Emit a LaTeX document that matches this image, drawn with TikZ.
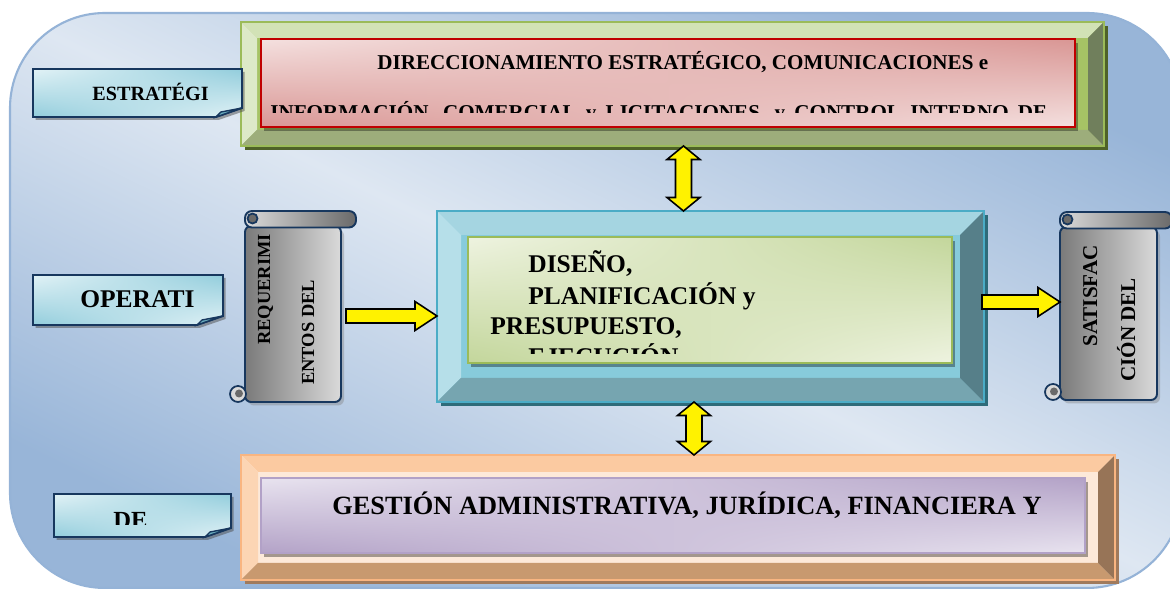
\documentclass[tikz,border=0pt]{standalone}
\usepackage{fontspec}
\setmainfont{Liberation Serif}
\usetikzlibrary{positioning, calc, shadows, shadings}

% background
\definecolor{bglight}{HTML}{DEE7F2}
\definecolor{bgdark}{HTML}{98B5D8}
\definecolor{bgborder}{HTML}{95B3D7}
% green frame
\definecolor{gfborder}{HTML}{9BBB59}
\definecolor{gfface}{HTML}{A6C365}
\definecolor{gftop}{HTML}{D2E2B6}
\definecolor{gfleft}{HTML}{DDE9C8}
\definecolor{gfbot}{HTML}{9DAD7B}
\definecolor{gfright}{HTML}{707F5C}
\definecolor{gfshadow}{HTML}{4F6228}
% blue frame
\definecolor{bfborder}{HTML}{4BACC6}
\definecolor{bfface}{HTML}{87CBDB}
\definecolor{bftop}{HTML}{A5D5E1}
\definecolor{bfleft}{HTML}{B6DFE9}
\definecolor{bfbot}{HTML}{76A5B0}
\definecolor{bfright}{HTML}{567F89}
\definecolor{bfshadow}{HTML}{2E6B79}
% orange frame
\definecolor{ofborder}{HTML}{F9B581}
\definecolor{offace}{HTML}{FDE9D9}
\definecolor{oftop}{HTML}{FBCAA1}
\definecolor{ofleft}{HTML}{FCD5B4}
\definecolor{ofbot}{HTML}{C8996F}
\definecolor{ofright}{HTML}{977457}
\definecolor{ofshadow}{HTML}{A07A5C}
% inner panels
\definecolor{dirborder}{HTML}{C00000}
\definecolor{dirlight}{HTML}{F4E0DF}
\definecolor{dirdark}{HTML}{D99694}
\definecolor{planborder}{HTML}{9BBB59}
\definecolor{planlight}{HTML}{EEF3E0}
\definecolor{plandark}{HTML}{C3D69B}
\definecolor{gestborder}{HTML}{B2A1C7}
\definecolor{gestlight}{HTML}{E8E3EF}
\definecolor{gestdark}{HTML}{B3A2C7}
% tabs, scrolls
\definecolor{navy}{HTML}{17375E}
\definecolor{tablight}{HTML}{E2F2F6}
\definecolor{tabdark}{HTML}{92CDDC}
\definecolor{tabfold}{HTML}{6AAEC0}
\definecolor{scrolldark}{HTML}{7A7A7A}
\definecolor{scrolllight}{HTML}{DADADA}
\definecolor{rolldark}{HTML}{6A6A6A}

% bevel bands of a frame node: name, width, top, left, bottom, right
\newcommand{\bevelframe}[6]{%
  \fill[#3] (#1.north west) -- (#1.north east) -- ([shift={(-#2,-#2)}]#1.north east) -- ([shift={(#2,-#2)}]#1.north west) -- cycle;
  \fill[#4] (#1.north west) -- ([shift={(#2,-#2)}]#1.north west) -- ([shift={(#2,#2)}]#1.south west) -- (#1.south west) -- cycle;
  \fill[#5] (#1.south west) -- ([shift={(#2,#2)}]#1.south west) -- ([shift={(-#2,#2)}]#1.south east) -- (#1.south east) -- cycle;
  \fill[#6] (#1.south east) -- ([shift={(-#2,#2)}]#1.south east) -- ([shift={(-#2,-#2)}]#1.north east) -- (#1.north east) -- cycle;
}
% yellow block arrow pointing right, from #1 to #2 (at the height of #1)
\newcommand{\rightblock}[2]{%
  \filldraw[yarrow] let \p1=(#1), \p2=(#2) in
    (\x1,\y1+0.14cm) -- (\x2-0.44cm,\y1+0.14cm) -- (\x2-0.44cm,\y1+0.29cm) -- (\x2,\y1)
    -- (\x2-0.44cm,\y1-0.29cm) -- (\x2-0.44cm,\y1-0.14cm) -- (\x1,\y1-0.14cm) -- cycle;
}
% yellow block arrow with two heads, from top #1 to bottom #2
\newcommand{\updownblock}[2]{%
  \filldraw[yarrow] let \p1=(#1), \p2=(#2) in
    (\x1,\y1) -- (\x1+0.33cm,\y1-0.27cm) -- (\x1+0.16cm,\y1-0.27cm) -- (\x1+0.16cm,\y2+0.27cm)
    -- (\x1+0.33cm,\y2+0.27cm) -- (\x1,\y2) -- (\x1-0.33cm,\y2+0.27cm) -- (\x1-0.16cm,\y2+0.27cm)
    -- (\x1-0.16cm,\y1-0.27cm) -- (\x1-0.33cm,\y1-0.27cm) -- cycle;
}

\begin{document}
\begin{tikzpicture}[
    bevelbox/.style={rectangle, draw=#1, line width=0.9pt, inner sep=0pt, outer sep=0pt},
    panel/.style={rectangle, draw=#1, line width=1.1pt, inner sep=0pt, outer sep=0pt,
                  drop shadow={shadow xshift=0.05cm, shadow yshift=-0.09cm, fill=black, opacity=0.35}},
    corners/.style 2 args={upper left=#1, lower right=#1, upper right=#2, lower left=#2},
    txt/.style={anchor=base west, inner sep=0pt, font=\bfseries},
    tabbox/.style={rectangle, inner sep=0pt, outer sep=0pt},
    tab/.style={draw=navy, line width=1.1pt, corners={tablight}{tabdark},
                drop shadow={shadow xshift=0.05cm, shadow yshift=-0.06cm, fill=black!70, opacity=0.5}},
    scroll/.style={rectangle, draw=navy, line width=1.1pt, inner sep=0pt, outer sep=0pt,
                   rounded corners=0.12cm, left color=scrolldark, right color=scrolllight,
                   drop shadow={shadow xshift=0.06cm, shadow yshift=-0.07cm, opacity=0.4}},
    roll/.style={draw=navy, line width=1.1pt, rounded corners=0.14cm, left color=scrolllight, right color=rolldark},
    curl/.style={draw=navy, line width=1pt, fill=rolldark},
    yarrow/.style={draw=black, fill=yellow, line width=0.9pt, line join=miter}
]
    \useasboundingbox (0,0) rectangle (23.4,11.78);

    % Background panel
    \path[draw=bgborder, line width=1.2pt, rounded corners=1.9cm,
          top color=bgdark, bottom color=bgdark, middle color=bglight, shading angle=-26]
        (0.2,0.02) rectangle (23.64,11.52);

    % Strategic frame (green)
    \node[bevelbox=gfborder, fill=gfface, minimum width=17.26cm, minimum height=2.48cm,
          drop shadow={shadow xshift=0.07cm, shadow yshift=-0.08cm, fill=gfshadow, opacity=1}] (gf) at (13.45,10.10) {};
    \bevelframe{gf}{0.32}{gftop}{gfleft}{gfbot}{gfright}
    \draw[gfborder, line width=0.9pt] (gf.south west) rectangle (gf.north east);

    \node[panel=dirborder, corners={dirlight}{dirdark}, minimum width=16.28cm, minimum height=1.76cm] (dir) at (13.36,10.12) {};
    \begin{scope}
        \clip (5.22,9.52) rectangle (dir.north east);
        \node[txt, font=\fontsize{12}{14}\selectfont\bfseries] (dir1) at (7.54,10.38)
            {DIRECCIONAMIENTO ESTRATÉGICO, COMUNICACIONES e};
        \node[txt, font=\fontsize{12}{14}\selectfont\bfseries] (dir2) at (5.40,9.38)
            {\makebox[15.54cm][s]{INFORMACIÓN, COMERCIAL y LICITACIONES, y CONTROL INTERNO DE}};
    \end{scope}

    % Operative frame (blue)
    \node[bevelbox=bfborder, fill=bfface, minimum width=10.94cm, minimum height=3.82cm,
          drop shadow={shadow xshift=0.07cm, shadow yshift=-0.08cm, fill=bfshadow, opacity=1}] (bf) at (14.21,5.65) {};
    \bevelframe{bf}{0.48}{bftop}{bfleft}{bfbot}{bfright}
    \draw[bfborder, line width=0.9pt] (bf.south west) rectangle (bf.north east);

    \node[panel=planborder, corners={planlight}{plandark}, minimum width=9.68cm, minimum height=2.52cm] (plan) at (14.20,5.78) {};
    \begin{scope}
        \clip (9.36,4.70) rectangle (plan.north east);
        \node[txt, font=\fontsize{14.5}{17}\selectfont\bfseries] (plan1) at (10.56,6.32) {DISEÑO,};
        \node[txt, font=\fontsize{14.5}{17}\selectfont\bfseries] (plan2) at (10.56,5.68) {PLANIFICACIÓN y};
        \node[txt, font=\fontsize{14.5}{17}\selectfont\bfseries] (plan3) at (9.80,5.08) {PRESUPUESTO,};
        \node[txt, font=\fontsize{14.5}{17}\selectfont\bfseries] (plan4) at (10.56,4.46) {EJECUCIÓN};
    \end{scope}

    % Support frame (orange)
    \node[bevelbox=ofborder, fill=offace, minimum width=17.48cm, minimum height=2.5cm,
          drop shadow={shadow xshift=0.07cm, shadow yshift=-0.08cm, fill=ofshadow, opacity=1}] (of) at (13.56,1.43) {};
    \bevelframe{of}{0.34}{oftop}{ofleft}{ofbot}{ofright}
    \draw[ofborder, line width=0.9pt] (of.south west) rectangle (of.north east);

    \node[panel=gestborder, corners={gestlight}{gestdark}, minimum width=16.48cm, minimum height=1.5cm] (gest) at (13.46,1.47) {};
    \node[txt, font=\fontsize{15}{18}\selectfont\bfseries] (gest1) at (6.64,1.48)
        {GESTIÓN ADMINISTRATIVA, JURÍDICA, FINANCIERA Y};

    % Level tabs
    \node[tabbox, minimum width=4.18cm, minimum height=0.96cm] (estr) at (2.75,9.92) {};
    \path[tab] (estr.north west) -- (estr.north east) -- ([yshift=0.18cm]estr.south east)
        -- ([xshift=-0.52cm]estr.south east) -- (estr.south west) -- cycle;
    \filldraw[draw=navy, line width=0.8pt, fill=tabfold] ([xshift=-0.52cm]estr.south east)
        -- ([yshift=0.18cm]estr.south east) -- ([shift={(-0.42,0.10)}]estr.south east) -- cycle;
    \node[txt, font=\fontsize{11.5}{14}\selectfont\bfseries] (estr1) at (1.84,9.76) {ESTRATÉGI};

    \node[tabbox, minimum width=3.8cm, minimum height=1.0cm] (oper) at (2.56,5.78) {};
    \path[tab] (oper.north west) -- (oper.north east) -- ([yshift=0.18cm]oper.south east)
        -- ([xshift=-0.52cm]oper.south east) -- (oper.south west) -- cycle;
    \filldraw[draw=navy, line width=0.8pt, fill=tabfold] ([xshift=-0.52cm]oper.south east)
        -- ([yshift=0.18cm]oper.south east) -- ([shift={(-0.42,0.10)}]oper.south east) -- cycle;
    \node[txt, font=\fontsize{14.5}{17}\selectfont\bfseries] (oper1) at (1.60,5.62) {OPERATI};

    \node[tabbox, minimum width=3.54cm, minimum height=0.86cm] (apoyo) at (2.85,1.47) {};
    \path[tab] (apoyo.north west) -- (apoyo.north east) -- ([yshift=0.18cm]apoyo.south east)
        -- ([xshift=-0.52cm]apoyo.south east) -- (apoyo.south west) -- cycle;
    \filldraw[draw=navy, line width=0.8pt, fill=tabfold] ([xshift=-0.52cm]apoyo.south east)
        -- ([yshift=0.18cm]apoyo.south east) -- ([shift={(-0.42,0.10)}]apoyo.south east) -- cycle;
    \begin{scope}
        \clip (1.08,1.28) rectangle (apoyo.north east);
        \node[txt, font=\fontsize{14}{17}\selectfont\bfseries] (apoyo1) at (2.26,1.20) {DE};
    \end{scope}

    % Input scroll
    \node[scroll, minimum width=1.92cm, minimum height=3.52cm] (req) at (5.86,5.50) {};
    \path[roll] ([yshift=-0.03cm]req.north west) rectangle ([shift={(0.30,0.30)}]req.north east);
    \filldraw[curl] ([shift={(0.15,0.15)}]req.north west) circle (0.1);
    \filldraw[draw=navy, line width=1pt, fill=scrolllight] ([shift={(-0.14,0.16)}]req.south west) circle (0.16);
    \fill[rolldark] ([shift={(-0.12,0.17)}]req.south west) circle (0.08);
    \node[txt, rotate=90, font=\fontsize{10.5}{13}\selectfont\bfseries] (req1) at (5.40,4.88) {REQUERIMI};
    \node[txt, rotate=90, font=\fontsize{10.5}{13}\selectfont\bfseries] (req2) at (6.28,4.08) {ENTOS DEL};

    % Output scroll
    \node[scroll, minimum width=1.94cm, minimum height=3.46cm] (sat) at (22.17,5.51) {};
    \path[roll] ([yshift=-0.03cm]sat.north west) rectangle ([shift={(0.30,0.30)}]sat.north east);
    \filldraw[curl] ([shift={(0.15,0.15)}]sat.north west) circle (0.1);
    \filldraw[draw=navy, line width=1pt, fill=scrolllight] ([shift={(-0.14,0.16)}]sat.south west) circle (0.16);
    \fill[rolldark] ([shift={(-0.12,0.17)}]sat.south west) circle (0.08);
    \node[txt, rotate=90, font=\fontsize{12}{14}\selectfont\bfseries] (sat1) at (21.94,4.84) {SATISFAC};
    \node[txt, rotate=90, font=\fontsize{12}{14}\selectfont\bfseries] (sat2) at (22.70,4.14) {CIÓN DEL};

    % Yellow arrows
    \coordinate (reqend) at ([yshift=-0.19cm]bf.west);
    \coordinate (reqstart) at ($(req.east |- reqend)+(0.10,0)$);
    \rightblock{reqstart}{reqend}
    \coordinate (satstart) at ([shift={(-0.04,0.09)}]bf.east);
    \rightblock{satstart}{sat.west}
    \coordinate (uptop) at ([xshift=0.22cm]gf.south);
    \coordinate (upbot) at (uptop |- bf.north);
    \updownblock{uptop}{upbot}
    \coordinate (dntop) at ([xshift=-0.33cm]bf.south);
    \coordinate (dnbot) at (dntop |- of.north);
    \updownblock{dntop}{dnbot}

\end{tikzpicture}
\end{document}
